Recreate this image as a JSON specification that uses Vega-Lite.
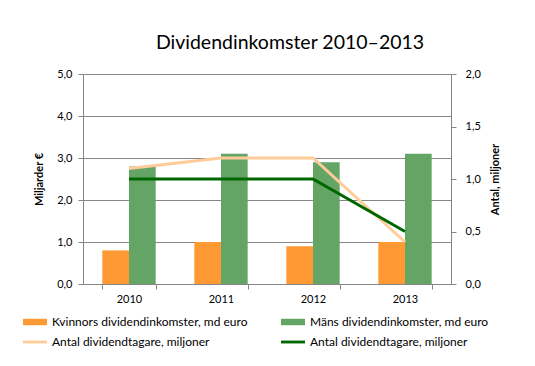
{
  "$schema": "https://vega.github.io/schema/vega-lite/v6.json",
  "width": 368,
  "height": 210,
  "autosize": "none",
  "padding": {"left": 83, "top": 74, "right": 84, "bottom": 82},
  "background": "white",
  "title": {
    "text": "Dividendinkomster 2010–2013",
    "font": "Lato",
    "fontSize": 19.5,
    "fontWeight": "normal",
    "color": "#000000",
    "anchor": "middle",
    "frame": "group",
    "dx": 23,
    "offset": 15
  },
  "datasets": {
    "bars": [
      {"year": "2010", "serie": "k", "value": 0.8},
      {"year": "2010", "serie": "m", "value": 2.8},
      {"year": "2011", "serie": "k", "value": 1.0},
      {"year": "2011", "serie": "m", "value": 3.1},
      {"year": "2012", "serie": "k", "value": 0.9},
      {"year": "2012", "serie": "m", "value": 2.9},
      {"year": "2013", "serie": "k", "value": 1.0},
      {"year": "2013", "serie": "m", "value": 3.1}
    ],
    "lines": [
      {"year": "2010", "serie": "ak", "value": 1.1},
      {"year": "2011", "serie": "ak", "value": 1.2},
      {"year": "2012", "serie": "ak", "value": 1.2},
      {"year": "2013", "serie": "ak", "value": 0.4},
      {"year": "2010", "serie": "am", "value": 1.0},
      {"year": "2011", "serie": "am", "value": 1.0},
      {"year": "2012", "serie": "am", "value": 1.0},
      {"year": "2013", "serie": "am", "value": 0.5}
    ]
  },
  "config": {
    "view": {"stroke": null},
    "axis": {
      "labelFont": "Lato",
      "labelFontSize": 11,
      "labelColor": "#000000",
      "titleFont": "Lato",
      "titleFontSize": 11,
      "titleFontWeight": "bold",
      "titleColor": "#000000",
      "domainColor": "#868686",
      "tickColor": "#868686",
      "gridColor": "#868686",
      "gridOpacity": 1,
      "tickSize": 5,
      "domainWidth": 1,
      "tickWidth": 1
    },
    "legend": {
      "labelFont": "Lato",
      "labelFontSize": 12,
      "labelColor": "#000000"
    }
  },
  "encoding": {
    "x": {
      "field": "year",
      "type": "nominal",
      "scale": {"paddingInner": 0.42, "paddingOuter": 0.21},
      "axis": {"title": null, "labelAngle": 0, "tickBand": "extent", "labelPadding": 4, "grid": false}
    },
    "color": {
      "field": "serie",
      "type": "nominal",
      "scale": {
        "domain": ["k", "m", "ak", "am"],
        "range": ["#FF9933", "#64A566", "#FFCC99", "#006600"]
      },
      "legend": {
        "title": null,
        "orient": "none",
        "legendX": -60,
        "legendY": 236,
        "direction": "horizontal",
        "columns": 2,
        "columnPadding": 33,
        "rowPadding": 2,
        "symbolSize": 576,
        "symbolStrokeWidth": 0,
        "labelOffset": 5,
        "labelLimit": 300,
        "labelExpr": "datum.value == 'k' ? 'Kvinnors dividendinkomster, md euro' : datum.value == 'm' ? 'Mäns dividendinkomster, md euro' : 'Antal dividendtagare, miljoner'",
        "encode": {
          "symbols": {
            "update": {
              "shape": {"signal": "datum.value == 'k' || datum.value == 'm' ? 'M-1,-0.27H1V0.27H-1Z' : 'M-1,-0.12H1V0.12H-1Z'"},
              "fill": {"signal": "scale('color', datum.value)"},
              "stroke": {"value": "transparent"},
              "opacity": {"value": 1}
            }
          }
        }
      }
    }
  },
  "layer": [
    {
      "data": {"name": "bars"},
      "mark": {"type": "bar"},
      "encoding": {
        "xOffset": {"field": "serie", "type": "nominal", "sort": ["k", "m"], "scale": {"paddingInner": 0, "paddingOuter": 0}},
        "y": {
          "field": "value",
          "type": "quantitative",
          "scale": {"domain": [0, 5], "nice": false},
          "axis": {
            "title": "Miljarder €",
            "values": [0, 1, 2, 3, 4, 5],
            "grid": true,
            "labelExpr": "replace(format(datum.value, '.1f'), '.', ',')",
            "labelPadding": 6,
            "titlePadding": 12
          }
        }
      }
    },
    {
      "data": {"name": "lines"},
      "mark": {"type": "line", "strokeWidth": 3},
      "encoding": {
        "y": {
          "field": "value",
          "type": "quantitative",
          "scale": {"domain": [0, 2], "nice": false},
          "axis": {
            "orient": "right",
            "title": "Antal, miljoner",
            "titleAngle": 270,
            "values": [0, 0.5, 1, 1.5, 2],
            "grid": false,
            "labelExpr": "replace(format(datum.value, '.1f'), '.', ',')",
            "labelPadding": 9,
            "titlePadding": 20
          }
        }
      }
    }
  ],
  "resolve": {"scale": {"y": "independent"}}
}
